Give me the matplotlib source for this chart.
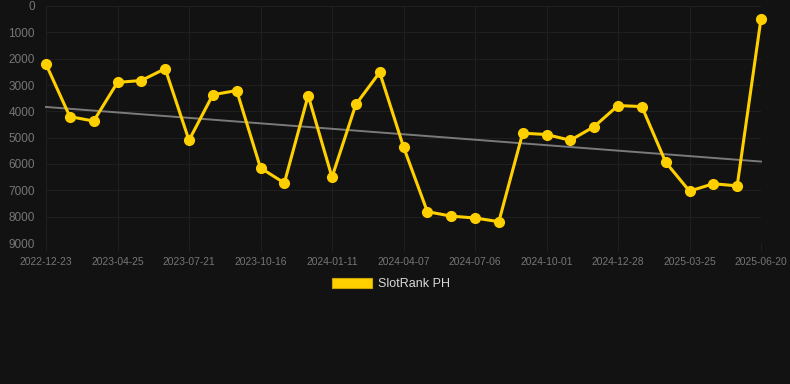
import matplotlib
matplotlib.use("Agg")
import matplotlib.pyplot as plt
from matplotlib.patches import Patch
import numpy as np

dates = ["2022-12-23", "2023-01-22", "2023-02-21", "2023-04-25", "2023-05-20", "2023-06-20",
         "2023-07-21", "2023-08-20", "2023-09-20", "2023-10-16", "2023-11-15", "2023-12-15",
         "2024-01-11", "2024-02-10", "2024-03-10", "2024-04-07", "2024-05-07", "2024-06-06",
         "2024-07-06", "2024-08-05", "2024-09-04", "2024-10-01", "2024-10-31", "2024-11-30",
         "2024-12-28", "2025-01-27", "2025-02-26", "2025-03-25", "2025-04-24", "2025-05-24",
         "2025-06-20"]
ranks = [2210, 4200, 4370, 2900, 2830, 2380, 5100, 3370, 3210, 6150, 6720, 3400,
         6500, 3740, 2520, 5350, 7810, 7980, 8050, 8190, 4830, 4880, 5100, 4580,
         3780, 3820, 5930, 7030, 6750, 6830, 480]
series_label = "SlotRank PH"
yticks = [0, 1000, 2000, 3000, 4000, 5000, 6000, 7000, 8000, 9000]

BG = "#121212"
YEL = "#FFD000"
GRID = "#1f1f1f"
TXT = "#767676"

W, H = 790, 384
fig = plt.figure(figsize=(W / 100, H / 100), dpi=100, facecolor=BG)
l, r, t, b = 46, 761, 6, 243
ax = fig.add_axes([l / W, 1 - b / H, (r - l) / W, (b - t) / H], facecolor=BG)

x = np.arange(len(ranks))
y = np.array(ranks, dtype=float)

coef = np.polyfit(x, y, 1)
ax.plot(x, np.polyval(coef, x), color="#7a7a7a", lw=1.4, zorder=2, clip_on=False)
ax.plot(x, y, color=YEL, lw=2.2, marker="o", ms=7, mfc=YEL, mec=YEL,
        zorder=3, clip_on=False, solid_joinstyle="miter")

ax.set_xlim(0, len(ranks) - 1)
ax.set_ylim(9000, 0)
ax.set_yticks(yticks)
ax.set_yticklabels([str(v) for v in yticks])
tick_idx = list(range(0, len(dates), 3))
ax.set_xticks(tick_idx)
ax.set_xticklabels([dates[i] for i in tick_idx])

for s in ax.spines.values():
    s.set_visible(False)
ax.grid(True, color=GRID, lw=0.8)
ax.set_axisbelow(True)
ax.tick_params(axis="both", colors=GRID, labelcolor=TXT, width=0.8)
ax.tick_params(axis="y", length=0, pad=8, labelsize=8.5)
ax.tick_params(axis="x", length=6, pad=4, labelsize=7.4)
for lab in ax.get_xticklabels() + ax.get_yticklabels():
    lab.set_family(["Liberation Sans", "DejaVu Sans"])

leg = fig.legend(handles=[Patch(facecolor=YEL, edgecolor="#c9a400", lw=0.8, label=series_label)],
                 loc="center", bbox_to_anchor=(391 / W, 1 - 284 / H), frameon=False,
                 handlelength=3.2, handleheight=0.9, handletextpad=0.55,
                 prop={"family": ["Liberation Sans", "DejaVu Sans"], "size": 9})
for tx in leg.get_texts():
    tx.set_color("#d8d8d8")

fig.savefig("out.png", dpi=100, facecolor=BG)
